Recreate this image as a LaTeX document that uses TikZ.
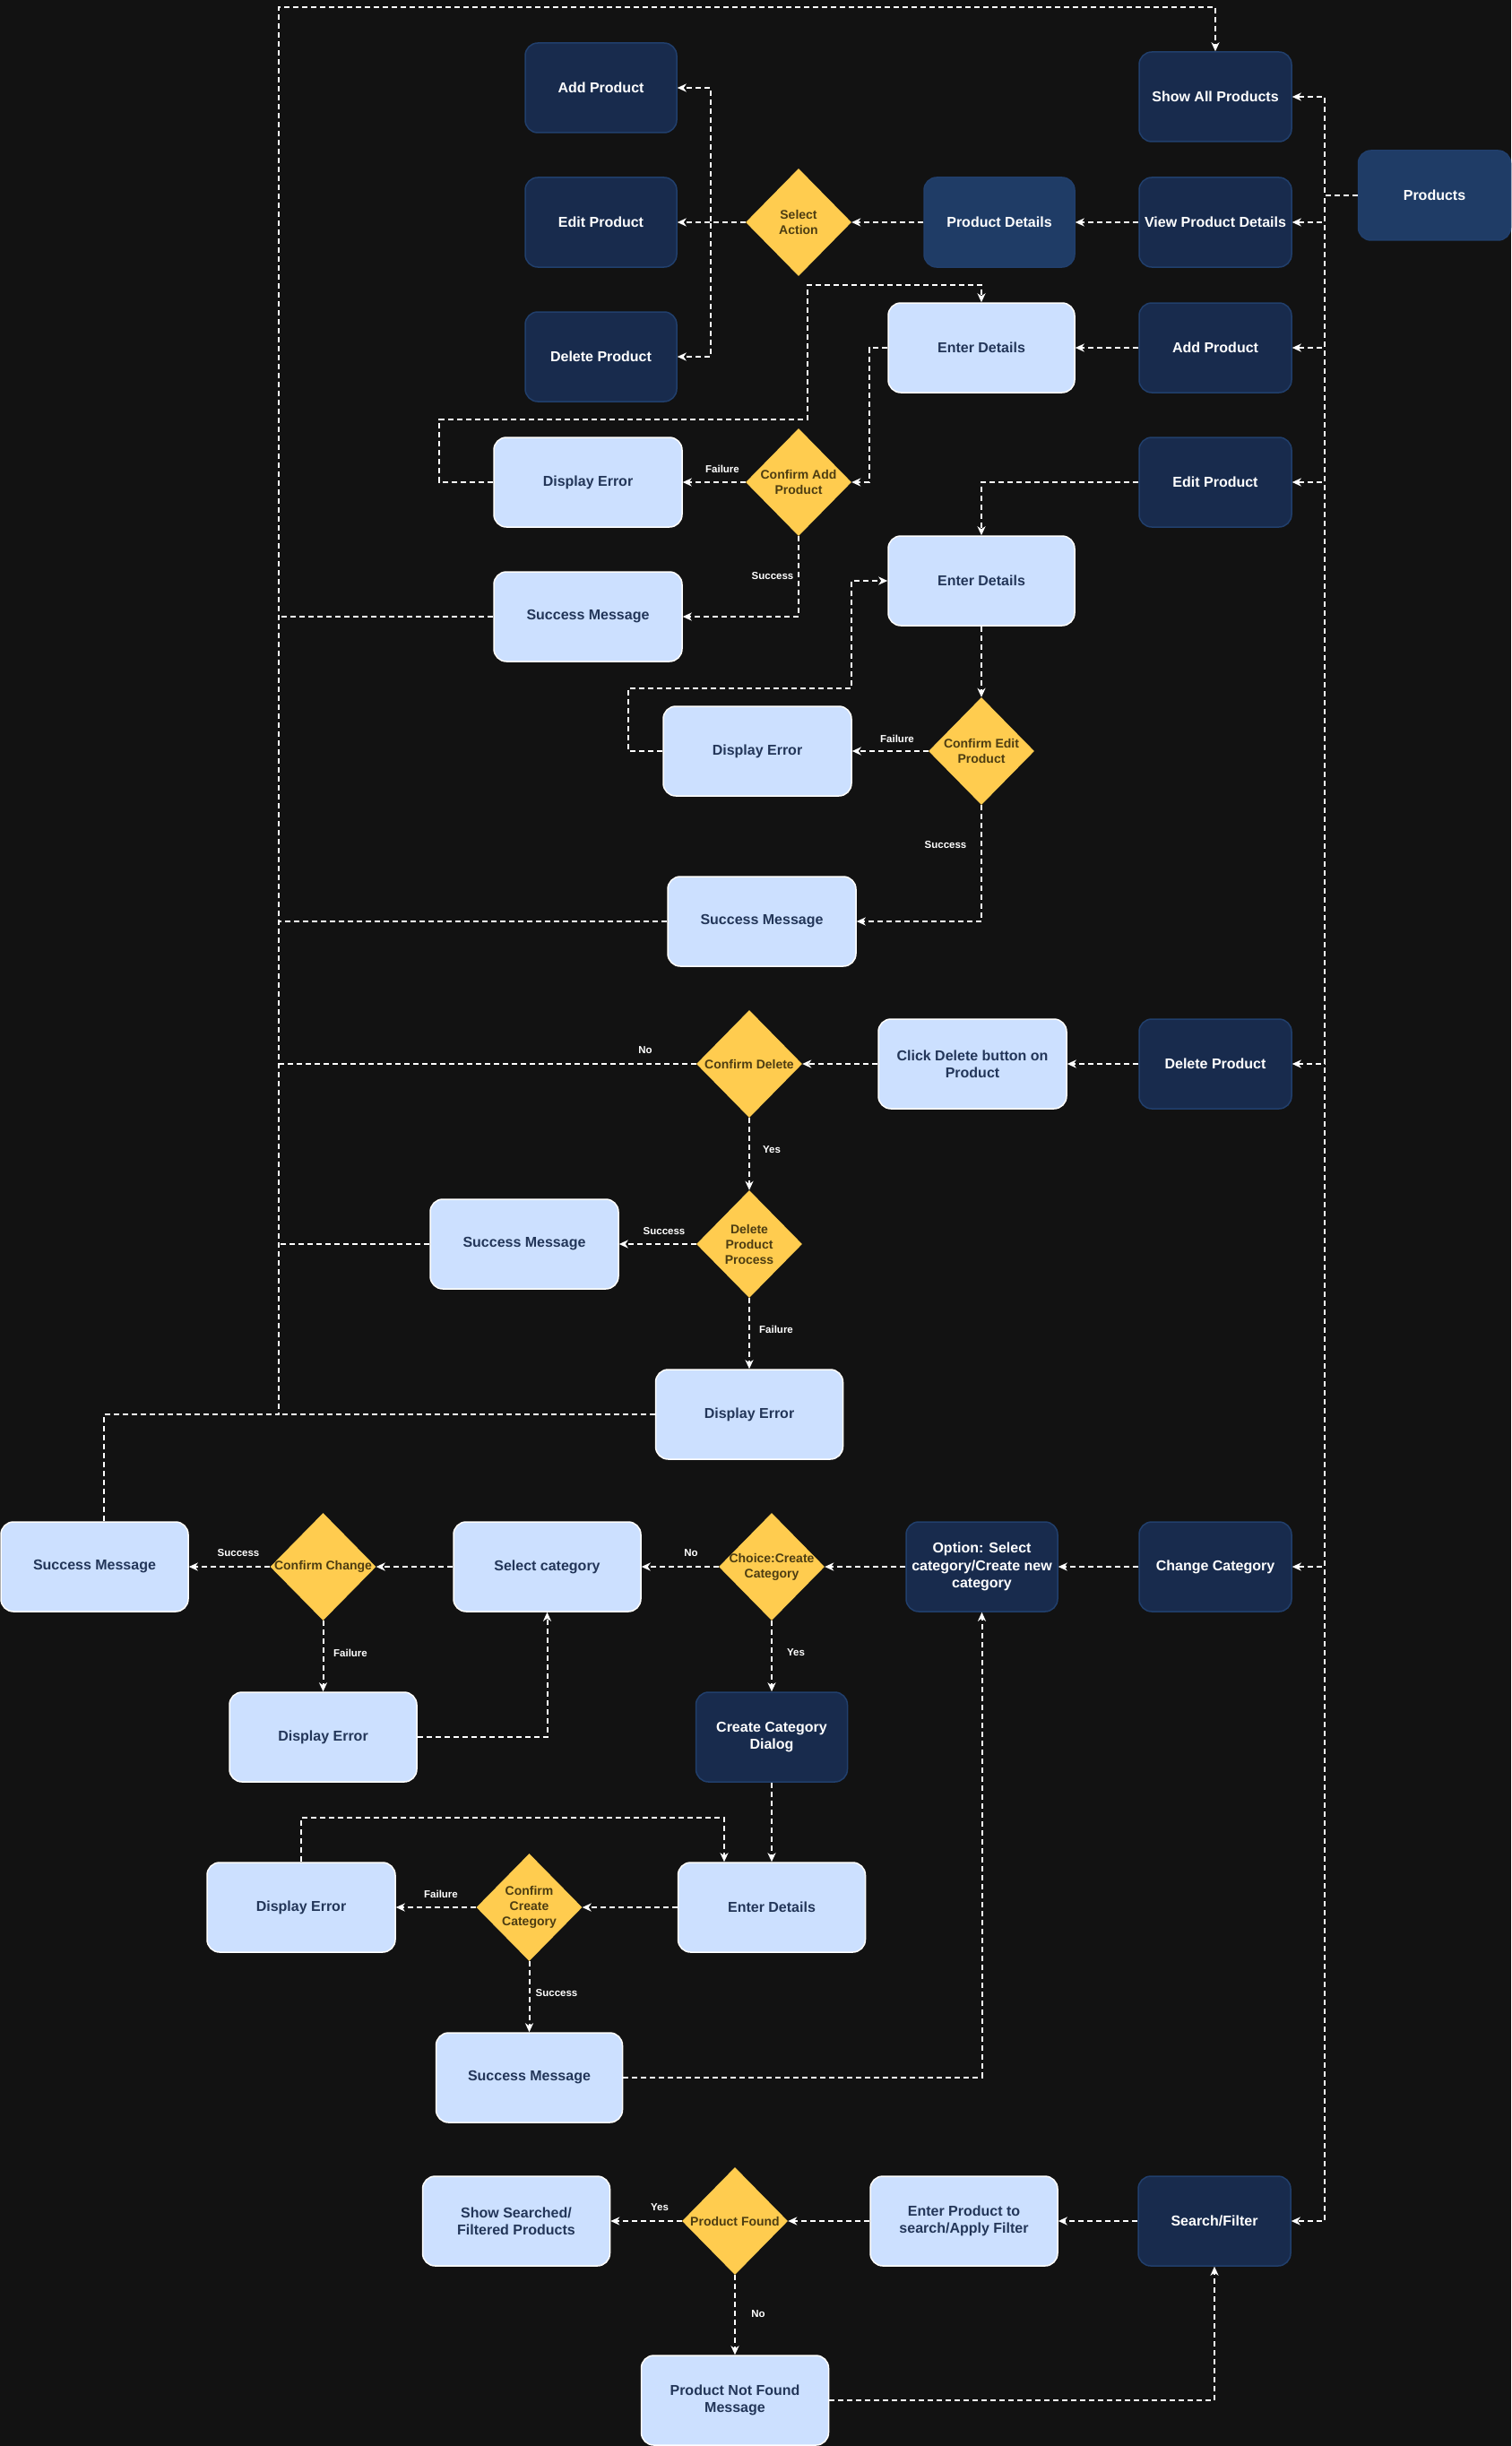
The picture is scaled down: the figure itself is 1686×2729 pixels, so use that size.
\documentclass[tikz,border=0pt]{standalone}
\usepackage{fontspec}
\setmainfont{Liberation Sans}
\usetikzlibrary{shapes.geometric,arrows.meta}
\definecolor{bgc}{HTML}{121212}
\definecolor{dkfill}{HTML}{182B4D}
\definecolor{dkfillb}{HTML}{1F3C66}
\definecolor{dkline}{HTML}{213F6C}
\definecolor{ltfill}{HTML}{CCE0FF}
\definecolor{lttext}{HTML}{233659}
\definecolor{ylw}{HTML}{FFCC4F}
\definecolor{ytext}{HTML}{4D3D12}
\newcommand{\myNodeFont}{\fontsize{16}{19.2}\selectfont\bfseries}
\newcommand{\myDiaFont}{\fontsize{14}{17}\selectfont\bfseries}
\newcommand{\myLblFont}{\fontsize{11.5}{13}\selectfont\bfseries}
\begin{document}
\begin{tikzpicture}[x=1pt,y=-1pt,
  box/.style={rectangle, rounded corners=14pt, minimum height=100pt, inner sep=4pt, align=center, font=\myNodeFont, line width=1.5pt},
  dk/.style={box, fill=dkfill, draw=dkline, text=white},
  dkb/.style={box, fill=dkfillb, draw=dkline, text=white},
  lt/.style={box, fill=ltfill, draw=white, text=lttext},
  dia/.style={diamond, fill=ylw, draw=none, minimum width=118pt, minimum height=120pt, inner sep=0pt},
  dtxt/.style={align=center, font=\myDiaFont, text=ytext, inner sep=0pt},
  conn/.style={draw=white, line width=2pt, dash pattern=on 6pt off 4pt},
  arr/.style={conn, -{Stealth[length=10pt,width=9pt,inset=3pt]}},
  lbl/.style={text=white, font=\myLblFont, inner sep=1pt}
]
\fill[bgc] (0,0) rectangle (1686,2729);
\useasboundingbox (0,0) rectangle (1686,2729);

% dark nodes
\node[dkb, minimum width=170pt] (prod) at (1600.5,218) {Products};
\node[dk, minimum width=170pt] (showall) at (1356,108) {Show All Products};
\node[dk, minimum width=170pt] (viewpd) at (1356,248) {View Product Details};
\node[dkb, minimum width=168pt] (pdetail) at (1115,248) {Product Details};
\node[dk, minimum width=170pt] (addR) at (1356,388) {Add Product};
\node[dk, minimum width=170pt] (editR) at (1356,538) {Edit Product};
\node[dk, minimum width=170pt] (delR) at (1356,1187) {Delete Product};
\node[dk, minimum width=170pt] (chcat) at (1356,1748) {Change Category};
\node[dk, minimum width=170pt] (search) at (1355,2478) {Search/Filter};
\node[dk, minimum width=169pt] (addL) at (670.5,98) {Add Product};
\node[dk, minimum width=169pt] (editL) at (670.5,248) {Edit Product};
\node[dk, minimum width=169pt] (delL) at (670.5,398) {Delete Product};
\node[dk, minimum width=169pt] (option) at (1095.5,1748) {Option: Select\\category/Create new\\category};
\node[dk, minimum width=169pt] (ccd) at (861,1938) {Create Category\\Dialog};

% light nodes
\node[lt, minimum width=208pt] (ed1) at (1095,388) {Enter Details};
\node[lt, minimum width=210pt] (de1) at (656,538) {Display Error};
\node[lt, minimum width=210pt] (sm1) at (656,688) {Success Message};
\node[lt, minimum width=208pt] (ed2) at (1095,648) {Enter Details};
\node[lt, minimum width=210pt] (de2) at (845,838) {Display Error};
\node[lt, minimum width=210pt] (sm2) at (850,1028) {Success Message};
\node[lt, minimum width=210pt] (click) at (1085,1187) {Click Delete button on\\Product};
\node[lt, minimum width=210pt] (sm3) at (585,1388) {Success Message};
\node[lt, minimum width=209pt] (de3) at (836,1578) {Display Error};
\node[lt, minimum width=209pt] (sm4) at (105.5,1748) {Success Message};
\node[lt, minimum width=209pt] (selcat) at (610.5,1748) {Select category};
\node[lt, minimum width=209pt] (de4) at (360.5,1938) {Display Error};
\node[lt, minimum width=209pt] (ed3) at (861,2128) {Enter Details};
\node[lt, minimum width=210pt] (de5) at (336,2128) {Display Error};
\node[lt, minimum width=208pt] (sm5) at (590.5,2318) {Success Message};
\node[lt, minimum width=209pt] (epsa) at (1075.5,2478) {Enter Product to\\search/Apply Filter};
\node[lt, minimum width=209pt] (ssfp) at (576,2478) {Show Searched/\\Filtered Products};
\node[lt, minimum width=209pt] (pnf) at (820,2678) {Product Not Found\\Message};

% diamonds
\node[dia, label={[dtxt]center:{Select\\Action}}] (selact) at (891,248) {};
\node[dia, label={[dtxt]center:{Confirm Add\\Product}}] (cap) at (891,538) {};
\node[dia, label={[dtxt]center:{Confirm Edit\\Product}}] (cep) at (1095,838) {};
\node[dia, label={[dtxt]center:{Confirm Delete}}] (cdel) at (836,1187) {};
\node[dia, label={[dtxt]center:{Delete\\Product\\Process}}] (dpp) at (836,1388) {};
\node[dia, label={[dtxt]center:{Confirm Change}}] (cchg) at (360.5,1748) {};
\node[dia, label={[dtxt]center:{Choice:Create\\Category}}] (choice) at (861,1748) {};
\node[dia, label={[dtxt]center:{Confirm\\Create\\Category}}] (ccc) at (590.5,2128) {};
\node[dia, label={[dtxt]center:{Product Found}}] (pf) at (820,2478) {};

% trunk from Products
\draw[arr] (prod.west) -- (1478,218) |- (showall.east);
\draw[arr] (prod.west) -- (1478,218) |- (viewpd.east);
\draw[arr] (prod.west) -- (1478,218) |- (addR.east);
\draw[arr] (prod.west) -- (1478,218) |- (editR.east);
\draw[arr] (prod.west) -- (1478,218) |- (delR.east);
\draw[arr] (prod.west) -- (1478,218) |- (chcat.east);
\draw[arr] (prod.west) -- (1478,218) |- (search.east);

% view details
\draw[arr] (viewpd.west) -- (pdetail.east);
\draw[arr] (pdetail.west) -- (selact.east);
\draw[arr] (selact.west) -- (editL.east);
\draw[arr] (selact.west) -- (793,248) |- (addL.east);
\draw[arr] (selact.west) -- (793,248) |- (delL.east);

% add product
\draw[arr] (addR.west) -- (ed1.east);
\draw[arr] (ed1.west) -- (970,388) |- (cap.east);
\draw[arr] (cap.west) -- (de1.east);
\draw[arr] (de1.west) -- (490,538) -- (490,468) -- (901,468) -- (901,318) -| (ed1.north);
\draw[arr] (cap.south) |- (sm1.east);
\draw[conn] (sm1.west) -- (311,688);

% edit product
\draw[arr] (editR.west) -| (ed2.north);
\draw[arr] (ed2.south) -- (cep.north);
\draw[arr] (cep.west) -- (de2.east);
\draw[arr] (de2.west) -- (701,838) -- (701,768) -- (950,768) |- (ed2.west);
\draw[arr] (cep.south) |- (sm2.east);
\draw[conn] (sm2.west) -- (311,1028);

% delete product
\draw[arr] (delR.west) -- (click.east);
\draw[arr] (click.west) -- (cdel.east);
\draw[conn] (cdel.west) -- (311,1187);
\draw[arr] (cdel.south) -- (dpp.north);
\draw[arr] (dpp.west) -- (sm3.east);
\draw[conn] (sm3.west) -- (311,1388);
\draw[arr] (dpp.south) -- (de3.north);
\draw[conn] (de3.west) -- (311,1578);
\draw[arr] ([xshift=10.5pt]sm4.north) -- (116,1578) -- (311,1578) -- (311,8) -| (showall.north);

% change category
\draw[arr] (chcat.west) -- (option.east);
\draw[arr] (option.west) -- (choice.east);
\draw[arr] (choice.west) -- (selcat.east);
\draw[arr] (choice.south) -- (ccd.north);
\draw[arr] (selcat.west) -- (cchg.east);
\draw[arr] (cchg.west) -- (sm4.east);
\draw[arr] (cchg.south) -- (de4.north);
\draw[arr] (de4.east) -| (selcat.south);
\draw[arr] (ccd.south) -- (ed3.north);
\draw[arr] (de5.north) |- (808,2028) -- ([xshift=-53pt]ed3.north);
\draw[arr] (ed3.west) -- (ccc.east);
\draw[arr] (ccc.west) -- (de5.east);
\draw[arr] (ccc.south) -- (sm5.north);
\draw[arr] (sm5.east) -| (option.south);

% search
\draw[arr] (search.west) -- (epsa.east);
\draw[arr] (epsa.west) -- (pf.east);
\draw[arr] (pf.west) -- (ssfp.east);
\draw[arr] (pf.south) -- (pnf.north);
\draw[arr] (pnf.east) -| (search.south);

% edge labels
\node[lbl] (l1) at (806,523) {Failure};
\node[lbl] (l2) at (862,643) {Success};
\node[lbl] (l3) at (1001,824) {Failure};
\node[lbl] (l4) at (1055,943) {Success};
\node[lbl] (l5) at (720,1172) {No};
\node[lbl] (l6) at (861,1283) {Yes};
\node[lbl] (l7) at (741,1374) {Success};
\node[lbl] (l8) at (866,1483) {Failure};
\node[lbl] (l9) at (266,1733) {Success};
\node[lbl] (l10) at (771,1733) {No};
\node[lbl] (l11) at (391,1844) {Failure};
\node[lbl] (l12) at (888,1844) {Yes};
\node[lbl] (l13) at (492,2113) {Failure};
\node[lbl] (l14) at (621,2224) {Success};
\node[lbl] (l15) at (736,2463) {Yes};
\node[lbl] (l16) at (846,2582) {No};
\end{tikzpicture}
\end{document}
